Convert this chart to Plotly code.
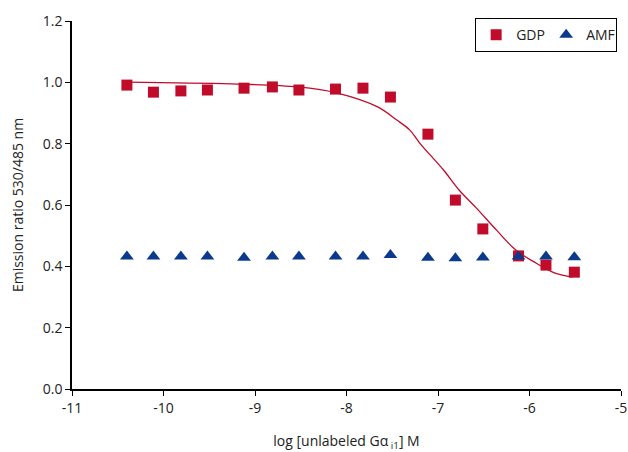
import plotly.graph_objects as go

log_conc = [-10.40, -10.11, -9.81, -9.52, -9.12, -8.81, -8.52, -8.12,
            -7.82, -7.52, -7.11, -6.81, -6.51, -6.12, -5.82, -5.51]
gdp = [0.991, 0.968, 0.972, 0.975, 0.981, 0.985, 0.975, 0.978,
       0.981, 0.952, 0.831, 0.616, 0.522, 0.434, 0.404, 0.381]
amf = [0.432, 0.432, 0.432, 0.432, 0.428, 0.432, 0.432, 0.432,
       0.432, 0.437, 0.428, 0.426, 0.429, 0.432, 0.432, 0.430]

fit_x = [-10.40, -9.26, -8.53, -8.10, -7.66, -7.45, -7.31, -7.20,
         -6.94, -6.77, -6.58, -6.36, -6.15, -5.93, -5.72, -5.53]
fit_y = [1.001, 0.995, 0.985, 0.965, 0.920, 0.877, 0.845, 0.802,
         0.714, 0.649, 0.590, 0.518, 0.453, 0.411, 0.378, 0.365]

x_ticks = [-11, -10, -9, -8, -7, -6, -5]
x_tick_labels = ["-11", "-10", "-9", "-8", "-7", "-6", "-5"]
y_ticks = [0.0, 0.2, 0.4, 0.6, 0.8, 1.0, 1.2]

RED = "#C10B2B"
BLUE = "#0B3A8C"

fig = go.Figure()
fig.add_trace(go.Scatter(x=fit_x, y=fit_y, mode="lines", line=dict(color=RED, width=1.3, shape="spline"),
                         showlegend=False, hoverinfo="skip"))
fig.add_trace(go.Scatter(x=log_conc, y=gdp, mode="markers", name="GDP",
                         marker=dict(symbol="square", size=11, color=RED)))
fig.add_trace(go.Scatter(x=log_conc, y=amf, mode="markers", name="AMF",
                         marker=dict(symbol="triangle-up", size=12, color=BLUE)))

font = "Open Sans, Noto Sans, sans-serif"
fig.update_layout(
    width=628, height=452,
    margin=dict(l=72, r=7, t=21, b=63),
    paper_bgcolor="white", plot_bgcolor="white",
    font=dict(family=font, size=14, color="#222"),
    legend=dict(orientation="h", x=0.993, y=1.008, xanchor="right", yanchor="top",
                bordercolor="black", borderwidth=1, bgcolor="white",
                font=dict(size=14), itemwidth=30, entrywidth=25, tracegroupgap=0),
    xaxis=dict(range=[-11, -5], tickvals=x_ticks, ticktext=x_tick_labels,
               automargin=False, ticklabeloverflow="allow",
               showgrid=False, zeroline=False, showline=True, linecolor="black", linewidth=1.5,
               ticks="outside", ticklen=5, tickcolor="black",
               title=dict(text="log [unlabeled Gα<sub> i1</sub>] M", font=dict(size=14), standoff=21)),
    yaxis=dict(range=[0, 1.2], tickvals=y_ticks, tickformat=".1f",
               automargin=False,
               showgrid=False, zeroline=False, showline=True, linecolor="black", linewidth=1.5,
               ticks="outside", ticklen=5, tickcolor="black",
               title=dict(text="Emission ratio 530/485 nm", font=dict(size=14), standoff=16)),
)

fig.write_html("out.html", post_script="document.body.style.margin='0';",
               config={"displayModeBar": False})
